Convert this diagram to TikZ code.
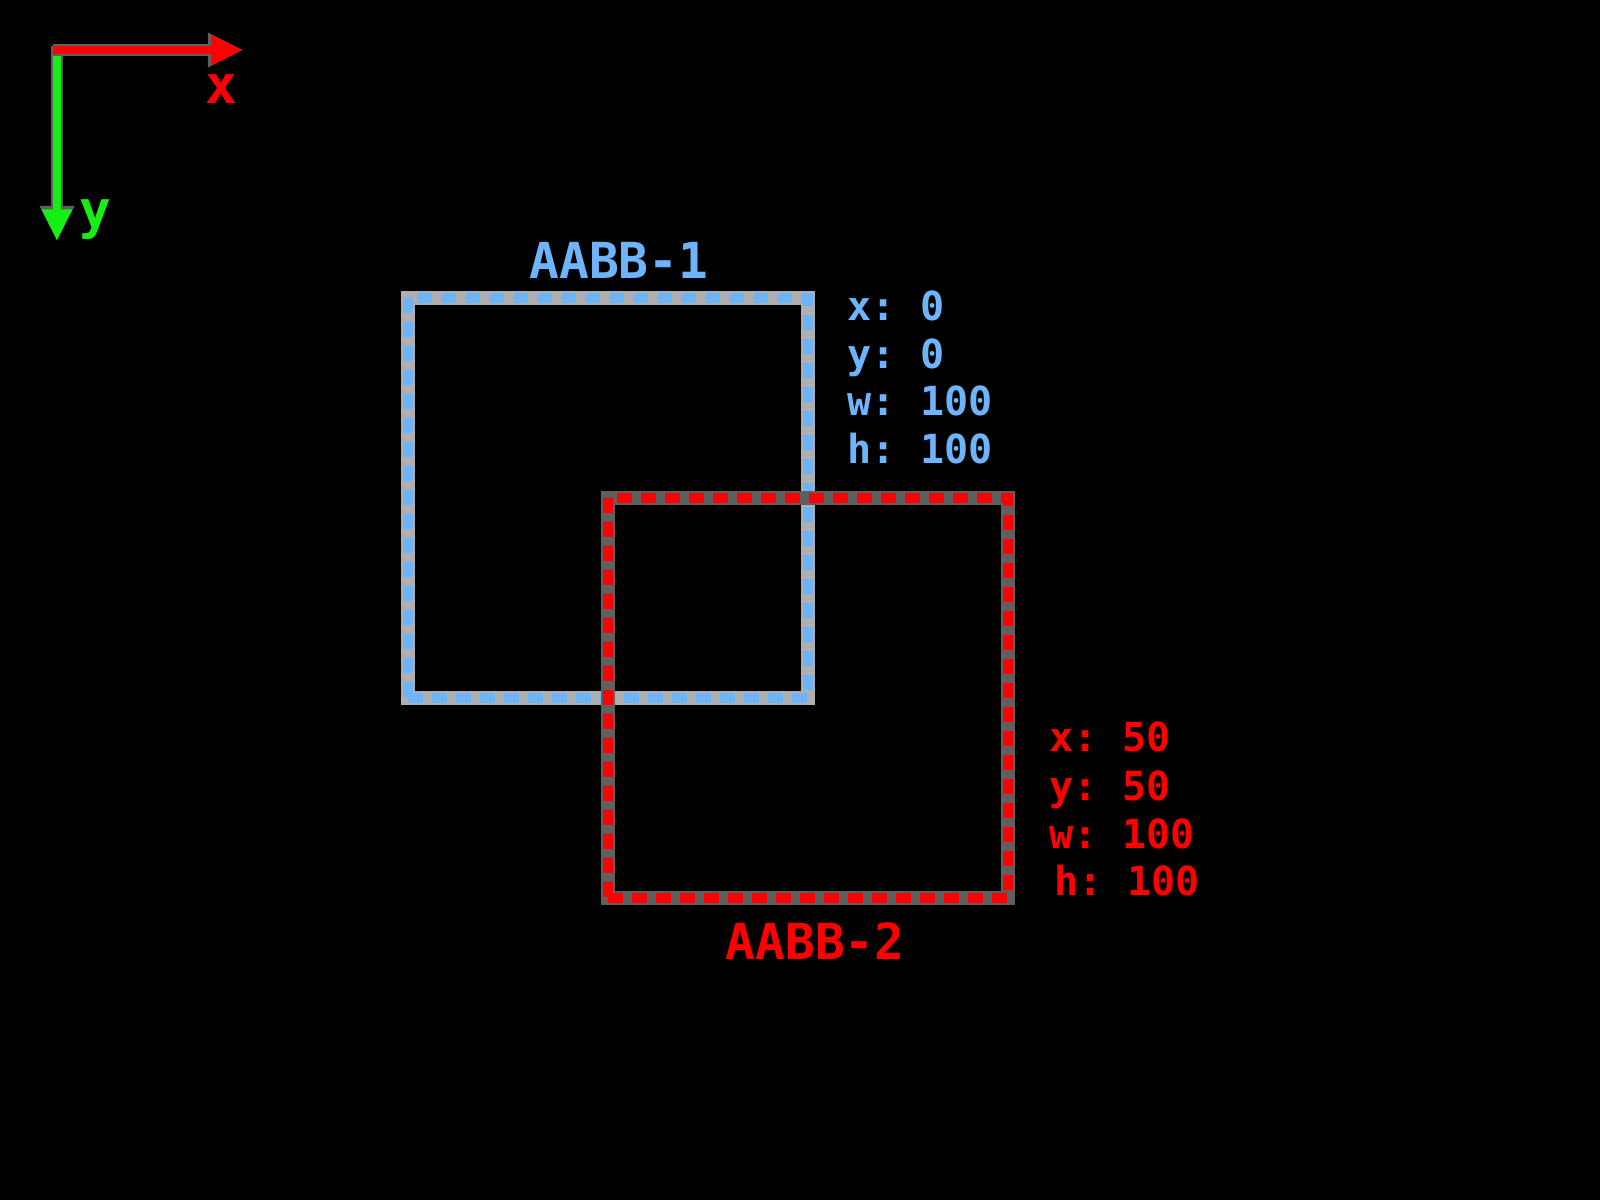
\documentclass[tikz,border=0pt]{standalone}
\usepackage{fontspec}
\setmonofont{DejaVu Sans Mono}
\usetikzlibrary{arrows.meta}
\definecolor{aabbblue}{RGB}{110,180,250}
\definecolor{aabbred}{RGB}{255,0,0}
\definecolor{axgreen}{RGB}{20,240,20}
\definecolor{halolight}{RGB}{175,175,175}
\definecolor{halodark}{RGB}{95,95,95}
\tikzset{
  aabb/.style={draw=#1, line width=2.85pt, dash pattern=on 4.27pt off 2.56pt,
    inner sep=0pt, outer sep=0pt, minimum width=4cm, minimum height=4cm},
  halo/.style={preaction={draw=#1, solid, line width=4.1pt}},
  info/.style={inner sep=0pt, anchor=base west, text=#1,
    font=\ttfamily\bfseries\fontsize{11.4}{13}\selectfont},
  title/.style={inner sep=0pt, anchor=base, text=#1,
    font=\ttfamily\bfseries\fontsize{14.1}{16}\selectfont},
  axlabel/.style={inner sep=0pt, anchor=base, text=#1,
    font=\ttfamily\bfseries\fontsize{15}{17}\selectfont},
  axisline/.style={draw=#1, line width=2.3pt, -{Triangle[length=9pt,width=8pt]}},
  axishalo/.style={draw=halodark, line width=3.3pt, -{Triangle[length=10pt,width=9.2pt]}}
}
\begin{document}
\begin{tikzpicture}[x=0.01cm,y=-0.01cm]
\fill[black] (0,0) rectangle (1600,1200);
\useasboundingbox (0,0) rectangle (1600,1200);

% axes
\coordinate (xo) at (53,50);
\coordinate (xe) at (243,50);
\coordinate (yo) at (57,46);
\coordinate (ye) at (57,241);
\draw[axishalo] (yo) -- (ye);
\draw[axisline=axgreen] (yo) -- (ye);
\draw[axishalo] (xo) -- (xe);
\draw[axisline=aabbred] (xo) -- (xe);
\node[axlabel=aabbred] (xlab) at (221,103) {x};
\node[axlabel=axgreen] (ylab) at (95,228) {y};

% boxes
\node[aabb=aabbblue, halo=halolight] (aabb1) at (608,498) {};
\node[aabb=aabbred, halo=halodark] (aabb2) at (808,698) {};

% titles
\node[title=aabbblue] (t1) at (619,278) {AABB-1};
\node[title=aabbred] (t2) at (815,959) {AABB-2};

% info AABB-1
\node[info=aabbblue] (b1) at (847,320) {x: 0};
\node[info=aabbblue] (b2) at (847,368) {y: 0};
\node[info=aabbblue] (b3) at (847,415) {w: 100};
\node[info=aabbblue] (b4) at (847,463) {h: 100};

% info AABB-2
\node[info=aabbred] (r1) at (1049,751) {x: 50};
\node[info=aabbred] (r2) at (1049,800) {y: 50};
\node[info=aabbred] (r3) at (1049,848) {w: 100};
\node[info=aabbred] (r4) at (1054,895) {h: 100};
\end{tikzpicture}
\end{document}
